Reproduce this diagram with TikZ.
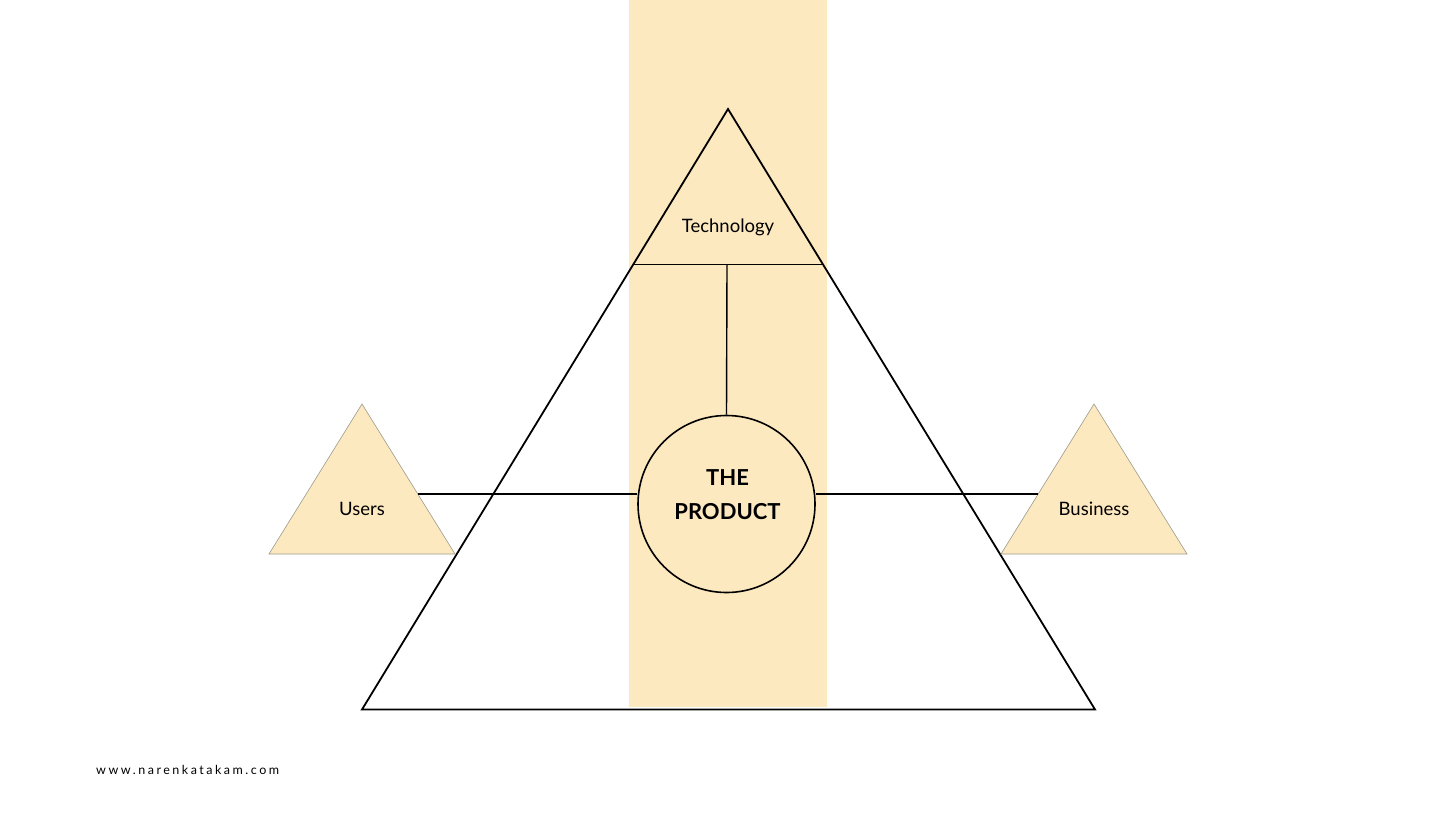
\documentclass[tikz,border=0pt]{standalone}
\usepackage{fontspec}
\setmainfont{Lato}
\definecolor{band}{HTML}{FDE9BF}
\definecolor{tri}{HTML}{9C9A8C}
\begin{document}
\begin{tikzpicture}[x=1pt,y=-1pt,
  bigline/.style={black,line width=1.8pt},
  link/.style={black,line width=1.4pt},
  smalltri/.style={fill=band,draw=tri,line width=0.6pt},
  lbl/.style={font=\fontsize{18.5}{20}\selectfont,inner sep=0pt},
  prod/.style={font=\bfseries\fontsize{22}{34}\selectfont,align=center,inner sep=0pt}]
\useasboundingbox (0,0) rectangle (1456,819);
\fill[white] (0,0) rectangle (1456,819);
% band
\fill[band] (628.5,0) rectangle (827,707);
% big triangle
\coordinate (apex) at (728,109);
\coordinate (bl) at (362,709.5);
\coordinate (br) at (1095,709.5);
\draw[bigline,line join=miter] (apex) -- (bl) -- (br) -- cycle;
% technology divider
\coordinate (tl) at (633.4,264.5);
\coordinate (tr) at (822.6,264.5);
\draw[link] (tl) -- (tr);
% small triangles
\draw[smalltri] (362,404) -- (455,554) -- (269,554) -- cycle;
\draw[smalltri] (1094,404) -- (1187,554) -- (1001,554) -- cycle;
% circle
\node[circle,draw=black,line width=1.6pt,minimum size=177pt,inner sep=0pt] (prod) at (726.5,504) {};
\node[prod] (prodtxt) at (727.5,495) {THE\\PRODUCT};
% labels
\node[lbl] (tech) at (728,227) {Technology};
\node[lbl] (users) at (362,508.5) {Users};
\node[lbl] (bus) at (1094,508.5) {Business};
% connectors
\coordinate (techc) at (727,265);
\draw[link] (techc) -- (prod.north);
\coordinate (uc) at (418,494);
\coordinate (bc) at (1038,494);
\draw[link] (uc) -- (prod.west |- uc);
\draw[link] (prod.east |- bc) -- (bc);
% footer
\node[anchor=west,inner sep=0pt,font=\fontsize{12.5}{13}\selectfont\addfontfeature{LetterSpace=20}] (web) at (96,770) {www.narenkatakam.com};
\end{tikzpicture}
\end{document}
